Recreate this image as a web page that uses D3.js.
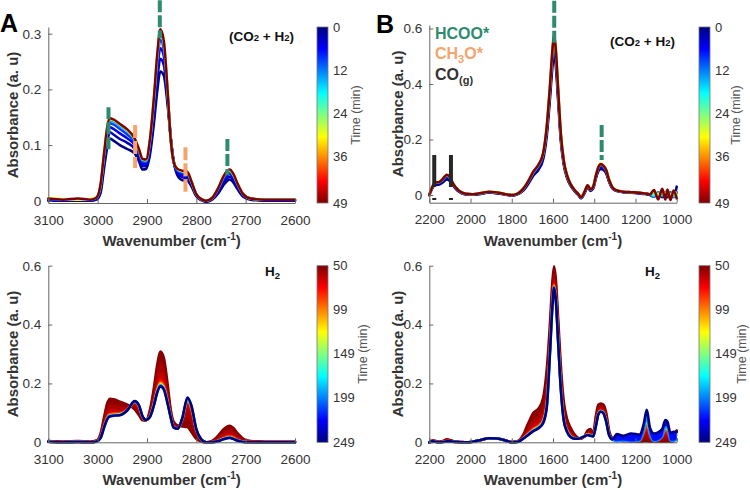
<!DOCTYPE html>
<html><head><meta charset="utf-8">
<script src="https://cdn.jsdelivr.net/npm/d3@7"></script>
<style>
body{margin:0;background:#fff}
svg{display:block}
text{font-family:"Liberation Sans",Arial,Helvetica,sans-serif}
</style>
</head><body>
<svg id="chart" width="750" height="490"></svg>
<script>
// ---------------- DATA ----------------
// Wavenumber grids (cm-1)
const wnA = [3100,3070,3040,3015,3002,2994,2987,2980,2975,2968, 2955,2940,2925,2916,2909,2902,2894,2886,2879,2873, 2866,2858,2852,2846,2838,2828,2818,2810,2800,2790, 2780,2768,2755,2745,2737,2732,2726,2716,2705,2690, 2660,2600];
const wnB = [2200,2185,2172,2155,2135,2115,2100,2085,2065,2045, 2020,1990,1950,1910,1870,1830,1800,1770,1745,1720, 1695,1670,1648,1630,1615,1603,1595,1587,1575,1562, 1548,1532,1515,1495,1478,1464,1448,1432,1418,1405, 1392,1380,1368,1355,1342,1328,1312,1290,1260,1220, 1180,1160,1145,1130,1110,1090,1070,1055,1045,1030, 1015,1000];

// Panel A, (CO2 + H2), time in min
const timesA1 = [0,3,6,9,15,30,49];
const a1_t0  = [0.000,0.000,0.000,0.000,0.002,0.014,0.058,0.098,0.112,0.108, 0.100,0.093,0.085,0.070,0.056,0.057,0.082,0.138,0.198,0.232, 0.225,0.170,0.115,0.072,0.045,0.037,0.036,0.026,0.008,0.001, -0.002,0.002,0.014,0.028,0.036,0.038,0.034,0.020,0.007,0.002, 0.000,0.000];
const a1_t3  = [0.001,0.001,0.001,0.001,0.003,0.019,0.066,0.109,0.123,0.119, 0.111,0.104,0.093,0.077,0.062,0.062,0.090,0.152,0.218,0.255, 0.244,0.178,0.114,0.071,0.049,0.042,0.041,0.029,0.009,0.002, -0.001,0.003,0.017,0.033,0.041,0.043,0.039,0.023,0.009,0.003, 0.001,0.001];
const a1_t6  = [0.002,0.001,0.002,0.001,0.004,0.023,0.073,0.118,0.132,0.129, 0.121,0.112,0.100,0.082,0.066,0.066,0.097,0.164,0.235,0.274, 0.260,0.184,0.113,0.071,0.052,0.046,0.045,0.031,0.010,0.002, -0.001,0.004,0.020,0.037,0.046,0.048,0.043,0.026,0.010,0.003, 0.001,0.001];
const a1_t9  = [0.003,0.002,0.002,0.002,0.005,0.026,0.078,0.126,0.139,0.137, 0.129,0.119,0.105,0.087,0.070,0.070,0.103,0.173,0.248,0.289, 0.272,0.189,0.113,0.071,0.054,0.050,0.048,0.033,0.011,0.003, 0.000,0.004,0.022,0.040,0.050,0.052,0.046,0.028,0.011,0.004, 0.002,0.002];
const a1_t15 = [0.004,0.002,0.003,0.002,0.006,0.028,0.082,0.131,0.144,0.142, 0.134,0.125,0.109,0.090,0.073,0.072,0.107,0.180,0.258,0.300, 0.282,0.193,0.112,0.070,0.056,0.052,0.050,0.034,0.012,0.003, 0.000,0.005,0.023,0.042,0.052,0.054,0.048,0.029,0.012,0.004, 0.002,0.002];
const a1_t30 = [0.005,0.003,0.002,0.003,0.006,0.029,0.084,0.134,0.147,0.145, 0.137,0.127,0.111,0.091,0.074,0.073,0.109,0.184,0.263,0.306, 0.286,0.194,0.112,0.070,0.057,0.053,0.051,0.035,0.012,0.003, 0.000,0.005,0.024,0.044,0.053,0.055,0.049,0.030,0.012,0.004, 0.002,0.002];
const a1_t49 = [0.004,0.002,0.004,0.002,0.006,0.030,0.085,0.135,0.148,0.146, 0.138,0.128,0.112,0.092,0.075,0.074,0.110,0.185,0.265,0.308, 0.288,0.195,0.112,0.070,0.057,0.054,0.052,0.035,0.012,0.003, 0.000,0.005,0.024,0.044,0.054,0.056,0.050,0.030,0.012,0.004, 0.002,0.002];

// Panel A, H2 only
const timesA2 = [50,55,61,68,90,140,195,249];
const a2_t50  = [0.004,0.002,0.004,0.002,0.006,0.030,0.085,0.135,0.148,0.146, 0.138,0.128,0.112,0.092,0.075,0.074,0.110,0.185,0.265,0.308, 0.288,0.195,0.112,0.070,0.057,0.054,0.052,0.035,0.012,0.003, 0.000,0.005,0.024,0.044,0.054,0.056,0.050,0.030,0.012,0.004, 0.002,0.002];
const a2_t55  = [0.003,0.001,0.002,0.001,0.005,0.025,0.074,0.117,0.129,0.128, 0.123,0.122,0.121,0.103,0.079,0.075,0.102,0.166,0.235,0.270, 0.253,0.174,0.103,0.064,0.053,0.064,0.084,0.064,0.023,0.005, 0.000,0.003,0.018,0.033,0.041,0.043,0.038,0.022,0.008,0.003, 0.001,0.001];
const a2_t61  = [0.003,0.001,0.002,0.001,0.004,0.021,0.063,0.101,0.111,0.111, 0.109,0.116,0.129,0.112,0.083,0.075,0.095,0.148,0.206,0.235, 0.221,0.155,0.095,0.058,0.050,0.073,0.114,0.091,0.032,0.007, 0.000,0.002,0.012,0.023,0.029,0.031,0.026,0.014,0.005,0.002, 0.001,0.001];
const a2_t68  = [0.002,0.000,0.001,0.000,0.004,0.018,0.057,0.091,0.100,0.101, 0.101,0.112,0.134,0.118,0.085,0.076,0.091,0.137,0.189,0.214, 0.202,0.143,0.090,0.054,0.048,0.079,0.132,0.107,0.038,0.009, 0.000,0.001,0.008,0.017,0.022,0.023,0.020,0.010,0.003,0.001, 0.000,0.000];
const a2_t90  = [0.002,0.000,0.001,0.000,0.003,0.017,0.054,0.087,0.095,0.097, 0.098,0.110,0.137,0.121,0.086,0.076,0.089,0.132,0.181,0.204, 0.193,0.138,0.088,0.052,0.047,0.081,0.140,0.114,0.041,0.009, 0.000,0.001,0.006,0.014,0.019,0.020,0.017,0.008,0.002,0.001, 0.000,0.000];
const a2_t140 = [0.002,0.000,0.001,0.000,0.003,0.016,0.052,0.083,0.092,0.093, 0.095,0.109,0.138,0.123,0.087,0.076,0.087,0.129,0.176,0.197, 0.186,0.134,0.087,0.051,0.047,0.083,0.146,0.120,0.043,0.010, 0.000,0.000,0.005,0.012,0.016,0.017,0.014,0.006,0.002,0.000, 0.000,0.000];
const a2_t195 = [0.002,0.000,0.001,0.000,0.003,0.015,0.051,0.082,0.090,0.092, 0.093,0.109,0.139,0.124,0.088,0.076,0.087,0.127,0.173,0.194, 0.183,0.132,0.086,0.051,0.046,0.084,0.149,0.122,0.044,0.010, 0.000,0.000,0.005,0.011,0.015,0.016,0.013,0.006,0.001,0.000, 0.000,0.000];
const a2_t249 = [0.002,0.000,0.001,0.000,0.003,0.015,0.050,0.080,0.088,0.090, 0.092,0.108,0.140,0.125,0.088,0.076,0.086,0.125,0.170,0.190, 0.180,0.130,0.085,0.050,0.046,0.085,0.152,0.125,0.045,0.010, 0.000,0.000,0.004,0.010,0.014,0.015,0.012,0.005,0.001,0.000, 0.000,0.000];

// Panel B, (CO2 + H2)
const timesB1 = [0,4,12,30,49];
const b1_t0  = [0.000,0.025,0.038,0.037,0.045,0.056,0.050,0.034,0.017,0.007, 0.002,0.001,0.004,0.009,0.006,0.001,-0.002,0.003,0.016,0.040, 0.070,0.092,0.128,0.215,0.345,0.460,0.512,0.470,0.340,0.195, 0.110,0.062,0.034,0.014,0.000,-0.012,0.005,0.028,0.015,0.024, 0.060,0.086,0.094,0.090,0.078,0.048,0.024,0.014,0.010,0.008, 0.006,0.004,0.003,0.000,-0.006,0.008,-0.008,0.006,-0.008,0.010, -0.006,0.030];
const b1_t4  = [0.000,0.027,0.042,0.041,0.051,0.064,0.056,0.038,0.019,0.008, 0.003,0.002,0.005,0.010,0.007,0.002,-0.001,0.004,0.019,0.045, 0.077,0.100,0.138,0.231,0.365,0.487,0.542,0.497,0.358,0.206, 0.117,0.067,0.037,0.016,0.002,-0.010,0.007,0.031,0.017,0.027, 0.065,0.092,0.102,0.097,0.083,0.051,0.026,0.015,0.011,0.009, 0.007,0.005,0.004,0.001,0.008,-0.006,0.008,-0.008,0.010,-0.004, 0.010,0.004];
const b1_t12 = [0.000,0.029,0.044,0.044,0.055,0.070,0.061,0.040,0.021,0.009, 0.004,0.003,0.006,0.011,0.008,0.003,0.000,0.005,0.021,0.048, 0.082,0.106,0.146,0.243,0.381,0.508,0.565,0.518,0.372,0.215, 0.122,0.070,0.039,0.017,0.003,-0.009,0.009,0.034,0.019,0.029, 0.068,0.097,0.108,0.102,0.088,0.054,0.027,0.016,0.012,0.010, 0.008,0.006,0.005,0.002,-0.006,0.010,-0.004,0.012,-0.002,0.008, -0.008,0.010];
const b1_t30 = [0.000,0.030,0.046,0.046,0.057,0.073,0.063,0.042,0.022,0.010, 0.004,0.003,0.007,0.012,0.009,0.003,0.000,0.006,0.022,0.050, 0.084,0.109,0.149,0.248,0.388,0.517,0.575,0.527,0.378,0.219, 0.124,0.072,0.040,0.018,0.004,-0.008,0.010,0.035,0.020,0.030, 0.070,0.100,0.113,0.106,0.090,0.056,0.028,0.016,0.012,0.010, 0.008,0.006,0.005,0.004,0.014,-0.004,0.016,0.000,0.016,-0.006, 0.014,0.000];
const b1_t49 = [0.000,0.030,0.046,0.046,0.058,0.073,0.064,0.042,0.022,0.010, 0.004,0.003,0.007,0.012,0.009,0.003,0.000,0.006,0.022,0.050, 0.085,0.110,0.150,0.250,0.390,0.520,0.578,0.530,0.380,0.220, 0.125,0.072,0.040,0.018,0.004,-0.008,0.010,0.035,0.020,0.030, 0.070,0.100,0.112,0.105,0.090,0.055,0.028,0.016,0.012,0.010, 0.008,0.006,0.005,0.002,0.018,-0.016,0.022,-0.016,0.020,-0.018, 0.016,-0.012];

// Panel B, H2 only
const timesB2 = [50,55,61,68,90,140,195,249];
const b2_t50  = [0.000,0.006,0.005,0.002,0.004,0.010,0.008,0.004,0.002,0.001, 0.000,0.002,0.008,0.014,0.013,0.006,0.001,0.004,0.025,0.065, 0.100,0.115,0.150,0.250,0.400,0.545,0.598,0.560,0.420,0.260, 0.140,0.080,0.050,0.026,0.015,0.012,0.020,0.040,0.045,0.030, 0.090,0.128,0.132,0.128,0.100,0.040,0.015,0.010,0.005,0.003, 0.002,0.003,0.004,0.002,0.002,0.002,0.002,0.002,0.002,0.002, 0.003,0.040];
const b2_t55  = [0.000,0.005,0.004,0.001,0.003,0.008,0.006,0.003,0.002,0.001, 0.000,0.002,0.008,0.014,0.013,0.006,0.001,0.003,0.020,0.051, 0.078,0.092,0.120,0.205,0.365,0.515,0.572,0.536,0.392,0.232, 0.117,0.065,0.039,0.021,0.014,0.013,0.020,0.035,0.037,0.027, 0.078,0.116,0.122,0.118,0.090,0.035,0.013,0.012,0.006,0.006, 0.003,0.012,0.020,0.008,0.003,0.006,0.008,0.013,0.012,0.005, 0.007,0.039];
const b2_t61  = [0.000,0.004,0.003,0.001,0.002,0.006,0.005,0.003,0.001,0.000, 0.000,0.002,0.008,0.014,0.013,0.006,0.000,0.003,0.017,0.040, 0.062,0.073,0.097,0.169,0.338,0.492,0.553,0.517,0.370,0.210, 0.100,0.053,0.030,0.017,0.013,0.014,0.020,0.031,0.031,0.024, 0.068,0.108,0.115,0.109,0.081,0.031,0.012,0.016,0.004,0.010, 0.005,0.020,0.036,0.015,0.006,0.010,0.014,0.024,0.022,0.008, 0.012,0.030];
const b2_t68  = [0.000,0.004,0.003,0.000,0.002,0.004,0.004,0.002,0.001,0.000, 0.000,0.002,0.008,0.014,0.013,0.006,0.000,0.002,0.015,0.033, 0.050,0.061,0.082,0.146,0.320,0.477,0.540,0.504,0.356,0.196, 0.088,0.045,0.024,0.015,0.013,0.014,0.020,0.028,0.027,0.022, 0.062,0.102,0.110,0.104,0.076,0.028,0.011,0.008,0.012,0.006, 0.014,0.027,0.048,0.020,0.010,0.004,0.020,0.033,0.030,0.014, 0.006,0.034];
const b2_t90  = [0.000,0.003,0.002,0.000,0.001,0.004,0.004,0.002,0.001,0.000, 0.000,0.002,0.008,0.014,0.013,0.006,0.000,0.002,0.014,0.030, 0.045,0.056,0.075,0.136,0.312,0.470,0.534,0.498,0.350,0.190, 0.083,0.041,0.022,0.014,0.012,0.015,0.020,0.027,0.025,0.021, 0.059,0.099,0.107,0.102,0.074,0.027,0.011,0.018,0.004,0.016, 0.006,0.035,0.062,0.026,0.004,0.018,0.024,0.042,0.040,0.012, 0.020,0.030];
const b2_t140 = [0.000,0.003,0.002,0.000,0.001,0.003,0.003,0.002,0.001,0.000, 0.000,0.002,0.008,0.014,0.013,0.006,0.000,0.002,0.013,0.027, 0.042,0.052,0.070,0.128,0.306,0.465,0.529,0.494,0.345,0.185, 0.079,0.039,0.020,0.013,0.012,0.015,0.020,0.026,0.023,0.021, 0.057,0.097,0.106,0.100,0.072,0.026,0.010,0.014,0.010,0.016, 0.012,0.044,0.080,0.034,0.016,0.020,0.032,0.060,0.055,0.020, 0.018,0.030];
const b2_t195 = [0.000,0.003,0.002,0.000,0.001,0.003,0.003,0.002,0.001,0.000, 0.000,0.002,0.008,0.014,0.013,0.006,0.000,0.002,0.012,0.026, 0.040,0.050,0.068,0.124,0.303,0.463,0.527,0.492,0.342,0.182, 0.077,0.037,0.019,0.012,0.012,0.015,0.020,0.025,0.022,0.020, 0.056,0.096,0.105,0.099,0.071,0.025,0.010,0.004,0.006,0.003, 0.006,0.040,0.090,0.030,0.004,0.008,0.020,0.055,0.050,0.006, 0.005,0.010];
const b2_t249 = [0.000,0.003,0.002,0.000,0.001,0.003,0.003,0.002,0.001,0.000, 0.000,0.002,0.008,0.014,0.013,0.006,0.000,0.002,0.012,0.025, 0.038,0.048,0.065,0.120,0.300,0.460,0.525,0.490,0.340,0.180, 0.075,0.036,0.018,0.012,0.012,0.015,0.020,0.025,0.022,0.020, 0.055,0.095,0.104,0.098,0.070,0.025,0.010,0.028,0.022,0.030, 0.026,0.062,0.110,0.050,0.030,0.034,0.045,0.076,0.070,0.032, 0.036,0.035];

// Axis ticks
const xTicksA = [3100,3000,2900,2800,2700,2600];
const xTicksB = [2200,2000,1800,1600,1400,1200,1000];
const yTicksTopA = [0,0.1,0.2,0.3];
const yTicksTopB = [0,0.2,0.4,0.6];
const yTicksBottom = [0,0.2,0.4,0.6];
const cbTicksTop = [0,12,24,36,49];
const cbTicksBottom = [50,99,149,199,249];

// Band markers (wavenumber, absorbance span, species)
const markersA1 = [
  {wn:2978, lo:0.087, hi:0.168, sp:"HCOO"},
  {wn:2874, lo:0.292, hi:0.360, sp:"HCOO"},
  {wn:2737, lo:0.046, hi:0.111, sp:"HCOO"},
  {wn:2924, lo:0.059, hi:0.136, sp:"CH3O"},
  {wn:2822, lo:0.016, hi:0.096, sp:"CH3O"}
];
const markersB1 = [
  {wn:1594, lo:0.547, hi:0.700, sp:"HCOO"},
  {wn:1364, lo:0.126, hi:0.252, sp:"HCOO"},
  {wn:2176, lo:-0.018, hi:0.144, sp:"CO"},
  {wn:2095, lo:-0.018, hi:0.144, sp:"CO"}
];

// ---------------- DRAWING ----------------
const svg = d3.select("#chart");
const speciesColor = {HCOO:"#2e8b6f", CH3O:"#f6a46b", CO:"#262626"};
const speciesDash = {HCOO:"12,3", CH3O:"13,3", CO:"32,11"};

function jet(v){
  v = Math.max(0, Math.min(1, v));
  const c = x => Math.round(255*Math.max(0, Math.min(1, x)));
  return `rgb(${c(Math.min(4*v-1.5,-4*v+4.5))},${c(Math.min(4*v-0.5,-4*v+3.5))},${c(Math.min(4*v+0.5,-4*v+2.5))})`;
}

let gradCount = 0;
function panel(o){
  const x = d3.scaleLinear().domain(o.xDomain).range(o.xRange);
  const y = d3.scaleLinear().domain(o.yDomain).range(o.yRange);
  const g = svg.append("g");
  const idx = d3.range(o.wn.length);

  const drawLine = k => {
    const s = o.spectra[k];
    const line = d3.line().x(i=>x(o.wn[i])).y(i=>y(s[i])).curve(d3.curveMonotoneX);
    g.append("path").attr("d", line(idx)).attr("fill","none")
      .attr("stroke", jet(o.tv(o.times[k]))).attr("stroke-width", o.lw)
      .attr("stroke-linejoin","round").attr("stroke-linecap","round");
  };
  // spectra drawn in time order; bands between successive spectra stand for the scans in between
  drawLine(0);
  for (let k=1; k<o.spectra.length; k++){
    if (o.fill){
      const a = o.spectra[k-1], b = o.spectra[k];
      const area = d3.area().x(i=>x(o.wn[i])).y0(i=>y(a[i])).y1(i=>y(b[i])).curve(d3.curveMonotoneX);
      g.append("path").attr("d", area(idx))
        .attr("fill", jet(o.tv((o.times[k-1]+o.times[k])/2))).attr("stroke","none");
    }
    drawLine(k);
  }

  // markers
  (o.markers||[]).forEach(m=>{
    g.append("line").attr("x1",x(m.wn)).attr("x2",x(m.wn))
      .attr("y1",y(m.hi)).attr("y2",y(m.lo))
      .attr("stroke",speciesColor[m.sp]).attr("stroke-width",4)
      .attr("stroke-dasharray",speciesDash[m.sp]);
  });

  // axes
  const xa = g.append("g").attr("transform",`translate(0,${o.yRange[0]})`)
    .call(d3.axisBottom(x).tickValues(o.xTicks).tickSizeInner(-4).tickSizeOuter(0).tickPadding(12).tickFormat(d3.format("d")));
  const ya = g.append("g").attr("transform",`translate(${o.xRange[0]},0)`)
    .call(d3.axisLeft(y).tickValues(o.yTicks).tickSizeInner(-4).tickSizeOuter(0).tickPadding(7).tickFormat(d=> d===0 ? "0" : d3.format(".1f")(d)));
  [xa,ya].forEach(a=>{
    a.selectAll("path,line").attr("stroke","#666").attr("stroke-width",1);
    a.selectAll("text").attr("fill","#333").attr("font-size",13.5).attr("font-family",'"Liberation Sans",Arial,sans-serif');
  });

  // axis titles
  const xt = g.append("text").attr("x",(o.xRange[0]+o.xRange[1])/2).attr("y",o.xTitleY)
    .attr("text-anchor","middle").attr("font-size",15).attr("font-weight","bold").attr("fill","#333");
  xt.append("tspan").text("Wavenumber (cm");
  xt.append("tspan").attr("dy",-6).attr("font-size",10).text("-1");
  xt.append("tspan").attr("dy",6).text(")");
  g.append("text").attr("transform",`translate(${o.yTitleX},${(o.yRange[0]+o.yRange[1])/2}) rotate(-90)`)
    .attr("text-anchor","middle").attr("font-size",15).attr("font-weight","bold").attr("fill","#333")
    .text("Absorbance (a. u)");

  // colorbar
  const cb = o.cb;
  const gid = "jetgrad"+(gradCount++);
  const grad = svg.append("defs").append("linearGradient").attr("id",gid)
    .attr("x1",0).attr("y1",0).attr("x2",0).attr("y2",1);
  const cs = d3.scaleLinear().domain(cb.domain).range([cb.y0, cb.y1]);
  d3.range(0,1.0001,0.025).forEach(f=>{
    const t = cb.domain[0] + f*(cb.domain[1]-cb.domain[0]);
    grad.append("stop").attr("offset",f).attr("stop-color",jet(o.tv(t)));
  });
  g.append("rect").attr("x",cb.x).attr("y",cb.y0).attr("width",cb.w).attr("height",cb.y1-cb.y0)
    .attr("fill",`url(#${gid})`).attr("stroke","#777").attr("stroke-width",0.8);
  cb.ticks.forEach(t=>{
    g.append("text").attr("x",cb.x+cb.w+5).attr("y",cs(t)).attr("dy","0.35em")
      .attr("font-size",13).attr("fill","#333").text(t);
  });
  g.append("text").attr("transform",`translate(${cb.titleX},${(cb.y0+cb.y1)/2}) rotate(-90)`)
    .attr("text-anchor","middle").attr("font-size",12.5).attr("fill","#555").text("Time (min)");
  return {g,x,y};
}

const topTv = t => t/49;
const botTv = t => 1 - (t-50)/199;

// Panel A top
panel({
  wn:wnA, times:timesA1, spectra:[a1_t0,a1_t3,a1_t6,a1_t9,a1_t15,a1_t30,a1_t49],
  tv:topTv, fill:false, lw:2.5,
  xDomain:[3100,2600], xRange:[48.3,295], yDomain:[-0.004,0.312], yRange:[203,27],
  xTicks:xTicksA, yTicks:yTicksTopA, markers:markersA1,
  xTitleY:246, yTitleX:18,
  cb:{x:317,w:11,y0:27,y1:203,domain:[0,49],ticks:cbTicksTop,titleX:360}
});
// Panel B top
panel({
  wn:wnB, times:timesB1, spectra:[b1_t0,b1_t4,b1_t12,b1_t30,b1_t49],
  tv:topTv, fill:true, lw:2.6,
  xDomain:[2200,1000], xRange:[429.3,676.7], yDomain:[-0.0277,0.6126], yRange:[202.7,25],
  xTicks:xTicksB, yTicks:yTicksTopB, markers:markersB1,
  xTitleY:246, yTitleX:403,
  cb:{x:699,w:11,y0:27,y1:203,domain:[0,49],ticks:cbTicksTop,titleX:740}
});
// Panel A bottom
panel({
  wn:wnA, times:timesA2, spectra:[a2_t50,a2_t55,a2_t61,a2_t68,a2_t90,a2_t140,a2_t195,a2_t249],
  tv:botTv, fill:true, lw:2.6,
  xDomain:[3100,2600], xRange:[48.3,295], yDomain:[0,0.6], yRange:[442.3,265.7],
  xTicks:xTicksA, yTicks:yTicksBottom, markers:[],
  xTitleY:485, yTitleX:18,
  cb:{x:317,w:11,y0:265.7,y1:442.3,domain:[50,249],ticks:cbTicksBottom,titleX:367}
});
// Panel B bottom
panel({
  wn:wnB, times:timesB2, spectra:[b2_t50,b2_t55,b2_t61,b2_t68,b2_t90,b2_t140,b2_t195,b2_t249],
  tv:botTv, fill:true, lw:2.6,
  xDomain:[2200,1000], xRange:[429.3,676.7], yDomain:[0,0.6], yRange:[442.3,265.7],
  xTicks:xTicksB, yTicks:yTicksBottom, markers:[],
  xTitleY:485, yTitleX:403,
  cb:{x:699,w:11,y0:265.7,y1:442.3,domain:[50,249],ticks:cbTicksBottom,titleX:746}
});

// Panel letters
svg.append("text").attr("x",0).attr("y",32).attr("font-size",25).attr("font-weight","bold").attr("fill","#000").text("A");
svg.append("text").attr("x",376).attr("y",33).attr("font-size",25).attr("font-weight","bold").attr("fill","#000").text("B");

// Condition labels
function condLabel(xEnd, yb){
  const t = svg.append("text").attr("x",xEnd).attr("y",yb).attr("text-anchor","end")
    .attr("font-size",13.5).attr("font-weight","bold").attr("fill","#111");
  t.append("tspan").text("(CO");
  t.append("tspan").attr("font-size",9.5).text("2");
  t.append("tspan").text(" + H");
  t.append("tspan").attr("font-size",9.5).text("2");
  t.append("tspan").text(")");
}
condLabel(294,41);
condLabel(675,46);
function h2Label(x0, yb){
  const t = svg.append("text").attr("x",x0).attr("y",yb)
    .attr("font-size",13.5).attr("font-weight","bold").attr("fill","#111");
  t.append("tspan").text("H");
  t.append("tspan").attr("dy",3).attr("font-size",9.5).text("2");
}
h2Label(265,276);
h2Label(645,276);

// Species legend
const lg = svg.append("g");
lg.append("text").attr("x",435).attr("y",39).attr("font-size",16).attr("font-weight","bold")
  .attr("fill",speciesColor.HCOO).text("HCOO*");
const l2 = lg.append("text").attr("x",435).attr("y",59).attr("font-size",16).attr("font-weight","bold").attr("fill",speciesColor.CH3O);
l2.append("tspan").text("CH");
l2.append("tspan").attr("dy",4).attr("font-size",11).text("3");
l2.append("tspan").attr("dy",-4).text("O*");
const l3 = lg.append("text").attr("x",435).attr("y",80).attr("font-size",16).attr("font-weight","bold").attr("fill","#333");
l3.append("tspan").text("CO");
l3.append("tspan").attr("dy",4).attr("font-size",11).text("(g)");
</script>
</body></html>
